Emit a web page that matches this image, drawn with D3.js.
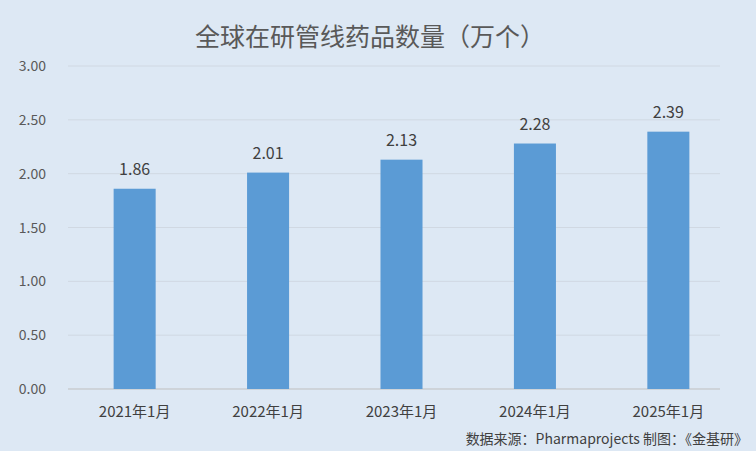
<!DOCTYPE html><html><head><meta charset="utf-8"><script src="https://cdn.jsdelivr.net/npm/d3@7"></script>
<style>body{margin:0;background:#dde8f4}</style></head><body><svg id="c" width="756" height="451"></svg><script>
const categories=["2021年1月","2022年1月","2023年1月","2024年1月","2025年1月"];
const values=[1.86,2.01,2.13,2.28,2.39];
const ticks=[0,0.5,1,1.5,2,2.5,3];
const svg=d3.select("#c");
svg.append("rect").attr("width",756).attr("height",451).attr("fill","#dde8f4");
const x=d3.scaleBand().domain(categories).range([68,735]).paddingInner(0.685).paddingOuter(0.342);
const y=d3.scaleLinear().domain([0,3]).range([389,66]);
const f="'Microsoft YaHei','Noto Sans CJK SC',sans-serif";
svg.append("g").selectAll("line").data(ticks).join("line").attr("x1",68).attr("x2",720).attr("y1",d=>y(d)).attr("y2",d=>y(d)).attr("stroke",d=>d===0?"#bfbfbf":"#d0d8e2");
svg.append("g").selectAll("text").data(ticks).join("text").attr("x",46).attr("y",d=>y(d)+5).attr("text-anchor","end").attr("font-size",14).attr("font-family",f).attr("fill","#595959").text(d=>d.toFixed(2));
svg.append("g").selectAll("rect").data(values).join("rect").attr("x",(d,i)=>x(categories[i])).attr("width",x.bandwidth()).attr("y",d=>y(d)).attr("height",d=>y(0)-y(d)).attr("fill","#5b9bd5");
svg.append("g").selectAll("text").data(values).join("text").attr("x",(d,i)=>x(categories[i])+x.bandwidth()/2).attr("y",d=>y(d)-14).attr("text-anchor","middle").attr("font-size",16).attr("font-family",f).attr("fill","#404040").text(d=>d.toFixed(2));
svg.append("g").selectAll("text").data(categories).join("text").attr("x",d=>x(d)+x.bandwidth()/2).attr("y",417).attr("text-anchor","middle").attr("font-size",15).attr("font-family",f).attr("fill","#404040").text(d=>d);
svg.append("text").attr("x",370).attr("y",46).attr("text-anchor","middle").attr("font-size",25).attr("font-family",f).attr("fill","#595959").text("全球在研管线药品数量（万个）");
svg.append("text").attr("x",748).attr("y",444).attr("text-anchor","end").attr("font-size",14).attr("font-family",f).attr("fill","#404040").text("数据来源：Pharmaprojects   制图：《金基研》");
</script></body></html>
